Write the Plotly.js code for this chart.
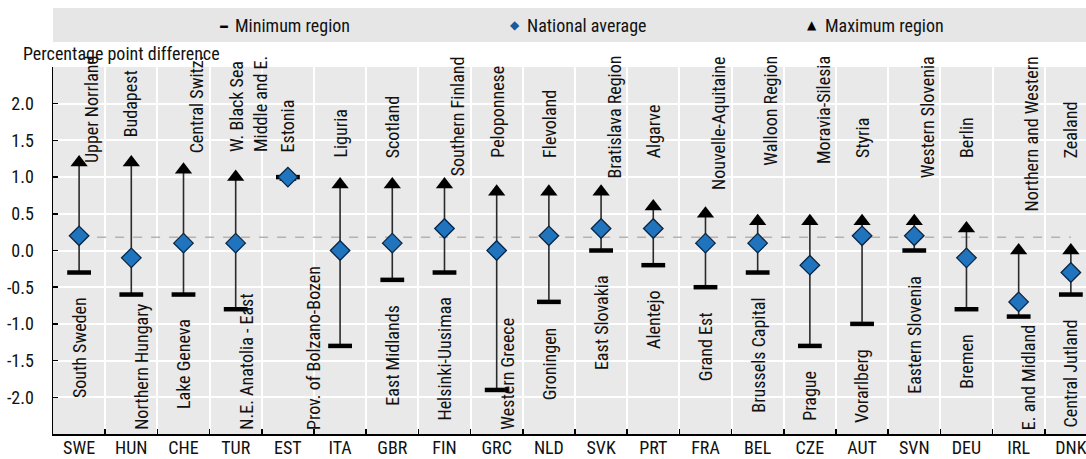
<!DOCTYPE html>
<html>
<head>
<meta charset="utf-8">
<script src="https://cdn.plot.ly/plotly-3.0.1.min.js"></script>
<style>html,body{margin:0;padding:0;background:#fff;}#chart{width:1086px;height:459px;}</style>
</head>
<body>
<div id="chart"></div>
<script>
const countries = ['SWE','HUN','CHE','TUR','EST','ITA','GBR','FIN','GRC','NLD','SVK','PRT','FRA','BEL','CZE','AUT','SVN','DEU','IRL','DNK'];
const minValues = [-0.3,-0.6,-0.6,-0.8,1.0,-1.3,-0.4,-0.3,-1.9,-0.7,0.0,-0.2,-0.5,-0.3,-1.3,-1.0,0.0,-0.8,-0.9,-0.6];
const avgValues = [0.2,-0.1,0.1,0.1,1.0,0.0,0.1,0.3,0.0,0.2,0.3,0.3,0.1,0.1,-0.2,0.2,0.2,-0.1,-0.7,-0.3];
const maxValues = [1.2,1.2,1.1,1.0,1.0,0.9,0.9,0.9,0.8,0.8,0.8,0.6,0.5,0.4,0.4,0.4,0.4,0.3,0.0,0.0];
const minRegions = ['South Sweden','Northern Hungary','Lake Geneva','N.E. Anatolia - East','','Prov. of Bolzano-Bozen','East Midlands','Helsinki-Uusimaa','Western Greece','Groningen','East Slovakia','Alentejo','Grand Est','Brussels Capital','Prague','Vorarlberg','Eastern Slovenia','Bremen','E. and Midland','Central Jutland'];
const maxRegions = ['Upper Norrland','Budapest','Central Switz.','W. Black Sea<br>Middle and E.','Estonia','Liguria','Scotland','Southern Finland','Peloponnese','Flevoland','Bratislava Region','Algarve','Nouvelle-Aquitaine','Walloon Region','Moravia-Silesia','Styria','Western Slovenia','Berlin','Northern and Western','Zealand'];
const referenceValue = 0.18;
const yTickVals = [-2.5,-2.0,-1.5,-1.0,-0.5,0.0,0.5,1.0,1.5,2.0,2.5];
const yTickText = ['','-2.0','-1.5','-1.0','-0.5','0.0','0.5','1.0','1.5','2.0',''];
const legendLabels = ['Minimum region','National average','Maximum region'];
const yTitle = 'Percentage point difference';

const FONT = '"Liberation Sans Narrow", "Arial Narrow", "Roboto Condensed", "DejaVu Sans Condensed", sans-serif';
const FS = 18;
const W = 1086, H = 459, ML = 53, MR = 0, MT = 67, MB = 25;
const yRange = [-2.5, 2.5];
const plotH = H - MT - MB, plotW = W - ML - MR;
const pxPerUnit = plotH / (yRange[1] - yRange[0]);
const valPx = v => MT + (yRange[1] - v) * pxPerUnit;
const pxVal = p => yRange[1] - (p - MT) / pxPerUnit;
const px2paperY = p => (H - MB - p) / plotH;
const px2paperX = p => (p - ML) / plotW;

const cv = document.createElement('canvas').getContext('2d');
cv.font = FS + 'px ' + FONT;
const textLen = s => Math.max(...s.split('<br>').map(t => cv.measureText(t).width));

// range lines
const lx = [], ly = [];
countries.forEach((c, i) => { lx.push(c, c, null); ly.push(minValues[i], maxValues[i], null); });

const traces = [
  {x: [countries[0], countries[countries.length-1]], y: [referenceValue, referenceValue], mode: 'lines',
   line: {color: '#b9b1a9', width: 1.6, dash: 'dash'}, hoverinfo: 'skip'},
  {x: lx, y: ly, mode: 'lines', line: {color: '#2a2a2a', width: 1.6}, hoverinfo: 'skip'},
  {x: countries, y: minValues, mode: 'markers', marker: {symbol: 'line-ew', size: 17, line: {width: 4.5, color: '#000'}}},
  {x: countries, y: maxValues, mode: 'markers', marker: {symbol: 'triangle-up', size: 15, color: '#000'}},
  {x: countries, y: avgValues, mode: 'markers', marker: {symbol: 'diamond', size: 15, color: '#1f74bd', line: {width: 1.3, color: '#0a2440'}}}
];

const ann = [];
const GAP = 23, CAP = 160, TOPLIM = 58, BOTLIM = 432;
countries.forEach((c, i) => {
  const mt = maxRegions[i];
  if (mt) {
    const len = textLen(mt);
    let bottom = Math.min(valPx(maxValues[i]) - GAP, CAP);
    let xs = 0;
    if (bottom - len < TOPLIM) { bottom = TOPLIM + len; xs = 13; }
    ann.push({x: c, y: pxVal(bottom), xref: 'x', yref: 'y', text: mt, textangle: -90, showarrow: false,
      yanchor: 'bottom', xanchor: 'center', xshift: xs, align: 'left', font: {family: FONT, size: FS, color: '#111'}});
  }
  const nt = minRegions[i];
  if (nt) {
    const len = textLen(nt);
    const top = valPx(minValues[i]) + GAP;
    if (top + len > BOTLIM) {
      const xs = (i > 0 && minValues[i-1] > 0.5) ? -27 : 10;
      ann.push({x: c, y: pxVal(BOTLIM), xref: 'x', yref: 'y', text: nt, textangle: -90, showarrow: false,
        yanchor: 'bottom', xanchor: 'center', xshift: xs, font: {family: FONT, size: FS, color: '#111'}});
    } else {
      ann.push({x: c, y: pxVal(top), xref: 'x', yref: 'y', text: nt, textangle: -90, showarrow: false,
        yanchor: 'top', xanchor: 'center', font: {family: FONT, size: FS, color: '#111'}});
    }
  }
});

// legend
const legY = px2paperY(25);
const legSym = [
  {t: '<b>–</b>', c: '#000', x: 224, s: 20},
  {t: '◆', c: '#1b5a9c', x: 515, s: 12},
  {t: '▲', c: '#000', x: 812, s: 12}
];
const legTextX = [233, 525, 823];
legSym.forEach((s, k) => {
  ann.push({x: px2paperX(s.x), y: legY, xref: 'paper', yref: 'paper', text: s.t, showarrow: false,
    xanchor: 'center', yanchor: 'middle', font: {family: 'DejaVu Sans', size: s.s, color: s.c}});
  ann.push({x: px2paperX(legTextX[k]), y: legY, xref: 'paper', yref: 'paper', text: legendLabels[k], showarrow: false,
    xanchor: 'left', yanchor: 'middle', font: {family: FONT, size: FS, color: '#111'}});
});
ann.push({x: px2paperX(21), y: px2paperY(53), xref: 'paper', yref: 'paper', text: yTitle, showarrow: false,
  xanchor: 'left', yanchor: 'middle', font: {family: FONT, size: FS, color: '#111'}});

const layout = {
  width: W, height: H,
  margin: {l: ML, r: MR, t: MT, b: MB, pad: 0},
  paper_bgcolor: '#fff', plot_bgcolor: '#e9e9e9',
  showlegend: false,
  font: {family: FONT, size: FS, color: '#111'},
  xaxis: {type: 'category', categoryorder: 'array', categoryarray: countries, range: [-0.5, 19.29],
    tickson: 'boundaries', ticks: 'inside', ticklen: 5, tickwidth: 1.5, tickcolor: '#000',
    showgrid: true, gridcolor: '#fff', gridwidth: 2, showline: true, linecolor: '#000', linewidth: 1.5,
    zeroline: false, ticklabelstandoff: -3, tickfont: {family: FONT, size: FS, color: '#111'}, fixedrange: true},
  yaxis: {range: yRange, tickvals: yTickVals, ticktext: yTickText, ticks: 'inside', ticklen: 5, tickwidth: 1.5,
    tickcolor: '#000', showgrid: true, gridcolor: '#fff', gridwidth: 2, showline: true, linecolor: '#000',
    linewidth: 1.5, zeroline: false, ticklabelstandoff: 14, tickfont: {family: FONT, size: FS, color: '#111'}, fixedrange: true},
  shapes: [{type: 'rect', xref: 'paper', yref: 'paper', x0: 0, x1: 1, y0: px2paperY(42), y1: px2paperY(8),
    fillcolor: '#e6e6e6', line: {width: 0}, layer: 'below'}],
  annotations: ann
};

Plotly.newPlot('chart', traces, layout, {displayModeBar: false, staticPlot: true});
</script>
</body>
</html>
